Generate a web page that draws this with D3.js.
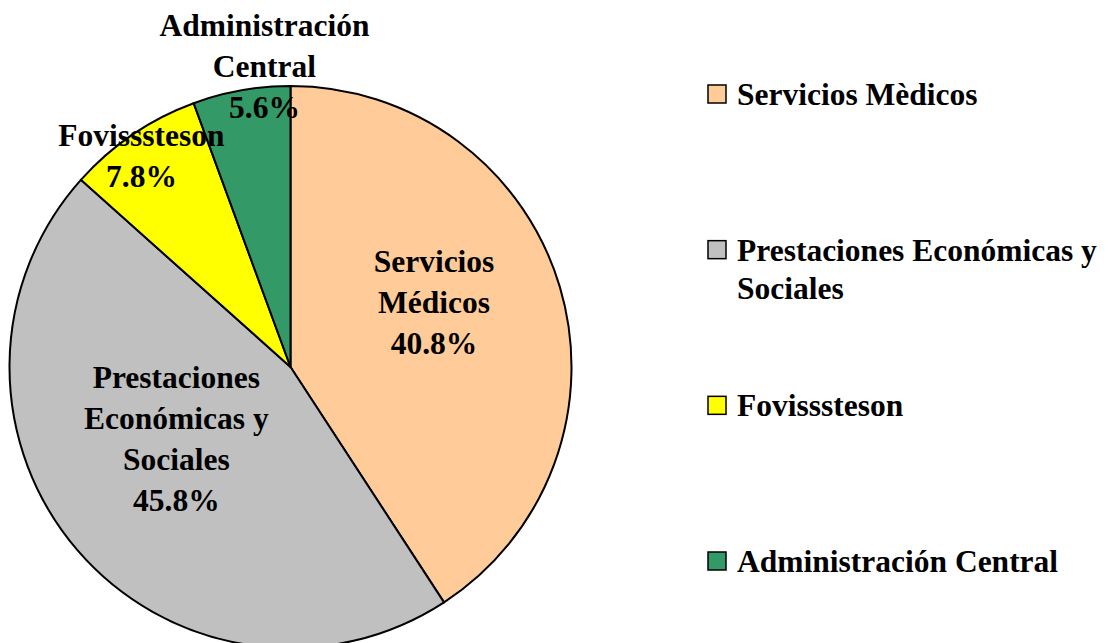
<!DOCTYPE html>
<html>
<head>
<meta charset="utf-8">
<script src="https://cdn.jsdelivr.net/npm/d3@7"></script>
<style>
  body { margin: 0; background: #fff; }
  svg text { font-family: "Liberation Serif", "Times New Roman", serif; font-weight: bold; }
</style>
</head>
<body>
<svg id="chart" width="1110" height="643"></svg>
<script>
// datos del grafico
const categorias = ["Servicios Mèdicos", "Prestaciones Económicas y Sociales", "Fovissste", "Administración Central"];
const legendLabels = [["Servicios Mèdicos"], ["Prestaciones Económicas y", "Sociales"], ["Fovisssteson"], ["Administración Central"]];
const sliceLabels = [["Servicios", "Médicos"], ["Prestaciones", "Económicas y", "Sociales"], ["Fovisssteson"], ["Administración", "Central"]];
const valores = [40.8, 45.8, 7.8, 5.6];
const colores = ["#FFCC99", "#C0C0C0", "#FFFF00", "#339966"];

const svg = d3.select("#chart");
const cx = 290.5, cy = 367, radius = 281;
const fontSize = 31.5, lineH = 41;

const g = svg.append("g").attr("transform", `translate(${cx},${cy})`);

const pie = d3.pie().sort(null).value(d => d);
const arc = d3.arc().innerRadius(0).outerRadius(radius);
const arcs = pie(valores);

g.selectAll("path.slice")
  .data(arcs)
  .join("path")
  .attr("class", "slice")
  .attr("d", arc)
  .attr("fill", (d, i) => colores[i])
  .attr("stroke", "#000")
  .attr("stroke-width", 2)
  .attr("stroke-linejoin", "round");

// posicion de las etiquetas: radio del centroide y pequeño ajuste
const labelPos = [
  { r: 156, dx: -6, dy: -21 },
  { r: 140, dx: -8, dy: -20 },
  { r: 258, dx: -4, dy: 2 },
  { r: 303, dx: 27, dy: -3 }
];

arcs.forEach((d, i) => {
  const p = labelPos[i];
  const la = d3.arc().innerRadius(p.r).outerRadius(p.r);
  const [x, y] = la.centroid(d);
  const lines = sliceLabels[i].concat([d3.format(".1f")(valores[i]) + "%"]);
  const y0 = y + p.dy - (lines.length - 1) * lineH / 2;
  const t = g.append("text")
    .attr("text-anchor", "middle")
    .attr("font-size", fontSize)
    .attr("fill", "#000");
  lines.forEach((s, j) => {
    t.append("tspan")
      .attr("x", x + p.dx)
      .attr("y", y0 + j * lineH)
      .attr("dy", "0.35em")
      .text(s);
  });
});

// leyenda
const legendY = d3.scaleLinear().domain([0, 3]).range([94, 561]);
const leg = svg.append("g").attr("transform", "translate(708,0)");
const items = leg.selectAll("g.item")
  .data(categorias)
  .join("g")
  .attr("class", "item")
  .attr("transform", (d, i) => `translate(0,${legendY(i)})`);

items.append("rect")
  .attr("x", 0)
  .attr("y", -9)
  .attr("width", 18)
  .attr("height", 18)
  .attr("fill", (d, i) => colores[i])
  .attr("stroke", "#000")
  .attr("stroke-width", 1.5);

items.append("text")
  .attr("font-size", fontSize)
  .attr("fill", "#000")
  .each(function (d, i) {
    const t = d3.select(this);
    legendLabels[i].forEach((s, j) => {
      t.append("tspan")
        .attr("x", 29)
        .attr("y", j * 38)
        .attr("dy", "0.35em")
        .text(s);
    });
  });
</script>
</body>
</html>
